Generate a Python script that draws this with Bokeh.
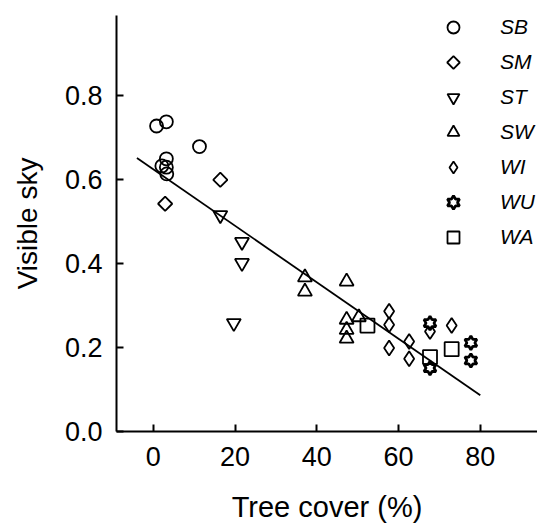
from bokeh.plotting import figure
from bokeh.models import Range1d, Legend, LegendItem, FixedTicker, PrintfTickFormatter, CustomJS
from bokeh.embed import file_html
from bokeh.resources import INLINE

# ---- data ----
sb_x = [0.8, 3.2, 11.3, 3.2, 2.1, 3.2, 3.3]
sb_y = [0.727, 0.737, 0.678, 0.649, 0.632, 0.629, 0.613]

sm_x = [2.9, 16.4]
sm_y = [0.542, 0.599]

st_x = [16.4, 21.7, 21.7, 19.7]
st_y = [0.515, 0.451, 0.401, 0.258]

sw_x = [37.1, 37.1, 47.3, 47.3, 47.3, 47.3, 50.3]
sw_y = [0.367, 0.333, 0.357, 0.266, 0.242, 0.221, 0.272]

wi_x = [57.7, 57.7, 57.7, 62.6, 62.6, 67.7, 73.0]
wi_y = [0.286, 0.254, 0.199, 0.214, 0.173, 0.238, 0.252]

wu_x = [67.7, 67.7, 77.7, 77.7]
wu_y = [0.258, 0.151, 0.211, 0.169]

wa_x = [52.4, 67.7, 73.0]
wa_y = [0.252, 0.177, 0.196]

fit_x = [-4, 80]
fit_y = [0.651, 0.086]

x_ticks = [0, 20, 40, 60, 80]
y_ticks = [0.0, 0.2, 0.4, 0.6, 0.8]

FONT = "Liberation Sans"

DIAMOND_JS = """
const d = (typeof cb_data !== "undefined" && cb_data && cb_data.ctx) ? cb_data : cb_obj;
const ctx = d.ctx, i = d.i, r = d.r * 1.05, visuals = d.visuals;
ctx.moveTo(0, -r); ctx.lineTo(r, 0); ctx.lineTo(0, r); ctx.lineTo(-r, 0); ctx.closePath();
visuals.fill.apply(ctx, i);
visuals.line.apply(ctx, i);
"""

HEX_JS = """
const d = (typeof cb_data !== "undefined" && cb_data && cb_data.ctx) ? cb_data : cb_obj;
const ctx = d.ctx, i = d.i, R = d.r * 1.15, visuals = d.visuals;
for (let k = 0; k < 12; k++) {
  const a = -Math.PI / 2 + k * Math.PI / 6;
  const rr = (k % 2 == 0) ? R : R / Math.sqrt(3);
  const x = rr * Math.cos(a), y = rr * Math.sin(a);
  if (k == 0) ctx.moveTo(x, y); else ctx.lineTo(x, y);
}
ctx.closePath();
visuals.fill.apply(ctx, i);
visuals.line.apply(ctx, i);
"""

p = figure(width=537, height=525, x_range=Range1d(-9, 94), y_range=Range1d(0, 0.99),
           output_backend="svg", toolbar_location=None,
           min_border_left=116, min_border_bottom=93, min_border_top=15, min_border_right=0)
p.title.visible = False
p.grid.visible = False
p.outline_line_color = None
p.background_fill_color = "white"
p.border_fill_color = "white"

p.xaxis.ticker = FixedTicker(ticks=x_ticks)
p.yaxis.ticker = FixedTicker(ticks=y_ticks)
p.yaxis.formatter = PrintfTickFormatter(format="%.1f")
for ax in (p.xaxis[0], p.yaxis[0]):
    ax.axis_line_width = 2
    ax.axis_line_color = "black"
    ax.major_tick_line_width = 2
    ax.major_tick_line_color = "black"
    ax.major_tick_in = 7
    ax.major_tick_out = 0
    ax.minor_tick_line_color = None
    ax.major_label_text_font = FONT
    ax.major_label_text_font_size = "27px"
    ax.major_label_text_color = "black"
    ax.axis_label_text_font = FONT
    ax.axis_label_text_font_style = "normal"
    ax.axis_label_text_color = "black"
p.xaxis.axis_label = "Tree cover (%)"
p.yaxis.axis_label = "Visible sky"
p.xaxis.axis_label_text_font_size = "29px"
p.yaxis.axis_label_text_font_size = "28px"
p.xaxis.major_label_standoff = 15
p.yaxis.major_label_standoff = 14
p.xaxis.axis_label_standoff = 22
p.yaxis.axis_label_standoff = 19

p.line(fit_x, fit_y, line_color="black", line_width=1.8)

LW = 1.8
r_sb = p.scatter(sb_x, sb_y, marker="circle", size=13, fill_color="white", fill_alpha=0,
                 line_color="black", line_width=LW)
r_sm = p.scatter(sm_x, sm_y, marker="@sqd", defs={"@sqd": CustomJS(code=DIAMOND_JS)},
                 size=13.5, fill_color="white", fill_alpha=0, line_color="black", line_width=LW)
r_st = p.scatter(st_x, st_y, marker="inverted_triangle", size=14, fill_color="white", fill_alpha=0,
                 line_color="black", line_width=LW)
r_sw = p.scatter(sw_x, sw_y, marker="triangle", size=14, fill_color="white", fill_alpha=0,
                 line_color="black", line_width=LW)
r_wi = p.scatter(wi_x, wi_y, marker="diamond", size=15, fill_color="white", fill_alpha=0,
                 line_color="black", line_width=LW)
r_wu = p.scatter(wu_x, wu_y, marker="@hex", defs={"@hex": CustomJS(code=HEX_JS)},
                 size=12, fill_color="white", line_color="black", line_width=2.8)
r_wa = p.scatter(wa_x, wa_y, marker="square", size=14, fill_color="white", fill_alpha=0,
                 line_color="black", line_width=LW)

items = [
    LegendItem(label="SB", renderers=[r_sb]),
    LegendItem(label="SM", renderers=[r_sm]),
    LegendItem(label="ST", renderers=[r_st]),
    LegendItem(label="SW", renderers=[r_sw]),
    LegendItem(label="WI", renderers=[r_wi]),
    LegendItem(label="WU", renderers=[r_wu]),
    LegendItem(label="WA", renderers=[r_wa]),
]
legend = Legend(items=items, location=(322, 179), orientation="vertical",
                glyph_width=30, glyph_height=30, label_height=30, spacing=5,
                label_standoff=32, padding=0, margin=0,
                border_line_color=None, background_fill_alpha=0,
                label_text_font=FONT, label_text_font_size="21px",
                label_text_font_style="italic", label_text_color="black")
p.add_layout(legend)

open("out.html", "w").write(file_html(p, INLINE))
